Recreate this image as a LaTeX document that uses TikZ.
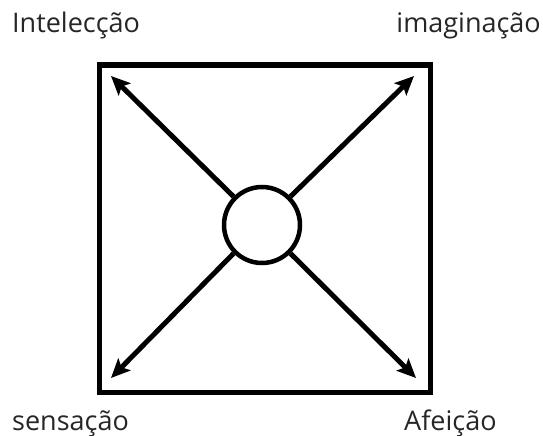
\documentclass[tikz,border=0pt]{standalone}
\usepackage{fontspec}
\setmainfont{Open Sans}
\usepackage{tikz}
\usetikzlibrary{arrows.meta}
\tikzset{
  frame/.style={draw, line width=5.5pt, inner sep=0pt, minimum width=331pt, minimum height=327.5pt},
  hub/.style={draw, circle, line width=4.5pt, inner sep=0pt, minimum size=76pt},
  arr/.style={-{Stealth[length=19pt, width=17pt, inset=4pt]}, line width=5pt},
  lbl/.style={font=\fontsize{27pt}{32pt}\selectfont, text=black!85, inner sep=0pt},
}
\begin{document}
\begin{tikzpicture}[x=1pt, y=-1pt]
  \useasboundingbox (0,0) rectangle (543,436);
  \node[frame] (sq) at (265,228.75) {};
  \node[hub] (c) at (262,225) {};
  \coordinate (nw) at (111,76);
  \coordinate (ne) at (414,76);
  \coordinate (sw) at (111,378);
  \coordinate (se) at (416,378);
  \draw[arr] (c.135) -- (nw);
  \draw[arr] (c.45) -- (ne);
  \draw[arr] (c.225) -- (sw);
  \draw[arr] (c.315) -- (se);
  \node[lbl, anchor=base west] (int) at (12,33) {Intelecção};
  \node[lbl, anchor=base east] (ima) at (541,33) {imaginação};
  \node[lbl, anchor=base west] (sen) at (12,430) {sensação};
  \node[lbl, anchor=base west] (afe) at (404,430) {Afeição};
\end{tikzpicture}
\end{document}
